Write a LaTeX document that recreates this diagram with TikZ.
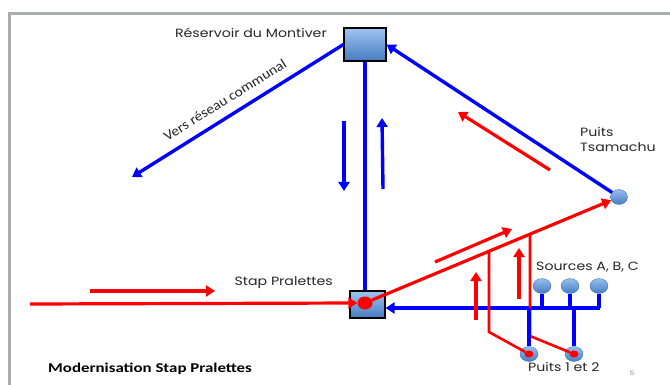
\documentclass[tikz,border=0pt]{standalone}
\usepackage{fontspec}
\setmainfont[FakeStretch=1.18]{Poppins}
\newfontfamily\calfont[FakeStretch=1.1]{Carlito}
\newfontfamily\titfont[FakeStretch=1.25]{Carlito}
\usetikzlibrary{arrows.meta,shapes.geometric,calc}
\definecolor{boxtop}{RGB}{160,196,240}
\definecolor{boxbot}{RGB}{70,124,192}
\definecolor{eltop}{RGB}{150,190,238}
\definecolor{elbot}{RGB}{70,125,195}
\definecolor{framegray}{RGB}{170,172,176}
\tikzset{
  tank/.style={draw=black,line width=1.1pt,top color=boxtop,bottom color=boxbot,inner sep=0pt},
  well/.style={ellipse,draw=elbot!80!black,line width=0.3pt,top color=eltop,bottom color=elbot,inner sep=0pt,minimum width=18pt,minimum height=15pt},
  dot/.style={ellipse,fill=red,draw=none,inner sep=0pt},
  bline/.style={draw=blue,line width=3.4pt},
  rline/.style={draw=red,line width=3.2pt},
  tip/.style={-{Triangle[length=9pt,width=11pt]}},
  lbl/.style={font=\fontsize{12}{15}\selectfont,text=black!85,inner sep=0pt},
}
\begin{document}
\begin{tikzpicture}[x=1pt,y=-1pt]
\useasboundingbox (0,0) rectangle (670,385);
% slide frame
\draw[framegray,line width=3pt] (9,385) -- (9,14) -- (670,14);
% nodes
\node[tank,minimum width=42pt,minimum height=33pt] (res) at (365,44.5) {};
\node[tank,minimum width=35pt,minimum height=27pt] (stap) at (367.5,304.5) {};
\node[dot,minimum width=15pt,minimum height=13pt] (stapdot) at (365,303) {};
\node[well,minimum width=17pt] (tsa) at (619,197) {};
\node[well] (srcA) at (542,286) {};
\node[well] (srcB) at (570,286) {};
\node[well] (srcC) at (599,286) {};
\node[well] (p1) at (529,354) {};
\node[well] (p2) at (574,354) {};
\node[dot,minimum width=9pt,minimum height=7pt] (p1d) at (529,354) {};
\node[dot,minimum width=9pt,minimum height=7pt] (p2d) at (574,354) {};
% labels
\node[lbl,anchor=east] (lres) at (327,33) {Réservoir du Montiver};
\node[lbl,anchor=east] (lstap) at (333,283) {Stap Pralettes};
\node[lbl,anchor=west,align=left] (ltsa) at (580,139) {Puits\\Tsamachu};
\node[lbl,anchor=west] (lsrc) at (536,267) {Sources A, B, C};
\node[lbl,anchor=west] (lpuits) at (528,367) {Puits 1 et 2};
\node[inner sep=0pt,text=black!50,font=\fontsize{6}{7}\selectfont] (pg) at (632,373) {5};
\node[inner sep=0pt,anchor=west,font=\titfont\bfseries\fontsize{13.5}{15}\selectfont] (title) at (48,369) {Modernisation Stap Pralettes};
% coordinates
\coordinate (vers) at (132,177);
\coordinate (dnA) at (344,121);
\coordinate (dnB) at (344,191);
\coordinate (upA) at (383,189);
\coordinate (upB) at (382,118);
\coordinate (hb) at (600,308);
\coordinate (rs) at (30,304);
\coordinate (ra) at (90,291);
\coordinate (rb) at (215,291);
\coordinate (pa) at (435,262);
\coordinate (pb) at (512,229);
\coordinate (u1a) at (476,320);
\coordinate (u1b) at (476,272);
\coordinate (u2a) at (519,299);
\coordinate (u2b) at (519,248);
\coordinate (ta) at (550,170);
\coordinate (tb) at (458,112);
\coordinate (v1b) at (489,400);
\coordinate (v1t) at (489,0);
\coordinate (v2b) at (530,400);
\coordinate (v2t) at (530,0);
\coordinate (j1) at (intersection of stapdot--tsa and v1t--v1b);
\coordinate (j2) at (intersection of stapdot--tsa and v2t--v2b);
\coordinate (k1) at (489,332);
\coordinate (k2) at (530,336);
% blue network
\draw[bline] (res.south) -- (res.south |- stap.north);
\draw[bline,tip] (res.west) -- (vers);
\draw[bline,tip] (tsa) -- (res.east);
\draw[bline,tip] (dnA) -- (dnB);
\draw[bline,tip] (upA) -- (upB);
\draw[bline] (srcA) -- (srcA |- hb);
\draw[bline] (srcB) -- (srcB |- hb);
\draw[bline] (srcC) -- (srcC |- hb);
\draw[bline,tip] (hb) -- (hb -| stap.east);
% red network
\draw[rline,tip] (rs) -- (stapdot.west);
\draw[rline,tip] (ra) -- (rb);
\draw[rline,tip] (stapdot) -- (tsa);
\draw[rline,tip] (pa) -- (pb);
\draw[rline,tip] (ta) -- (tb);
\draw[rline,tip] (u1a) -- (u1b);
\draw[rline,tip] (u2a) -- (u2b);
\draw[rline,line width=2.6pt] (j1) -- (k1) -- (p1d);
\draw[rline,line width=2.6pt] (j2) -- (k2) -- (p2d);
\draw[bline] (p1) -- (p1 |- hb);
\draw[bline] (p2) -- (p2 |- hb);
% rotated label
\node[inner sep=0pt,rotate=32,font=\calfont\fontsize{14}{16}\selectfont,text=black!85] (lvers) at (225,100) {Vers réseau communal};
\end{tikzpicture}
\end{document}
